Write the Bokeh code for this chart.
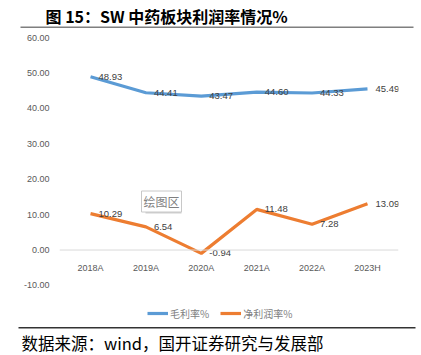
from bokeh.plotting import figure
from bokeh.layouts import column
from bokeh.models import (FactorRange, Range1d, ColumnDataSource, Span, Label, Legend, LegendItem,
                          NumeralTickFormatter, FixedTicker, BoxAnnotation)
from bokeh.core.properties import value
from bokeh.embed import file_html
from bokeh.resources import INLINE

categories = ["2018A", "2019A", "2020A", "2021A", "2022A", "2023H"]
gross_margin = [48.93, 44.41, 43.47, 44.60, 44.33, 45.49]
net_margin = [10.29, 6.54, -0.94, 11.48, 7.28, 13.09]
y_ticks = [-10, 0, 10, 20, 30, 40, 50, 60]
series_names = ["毛利率%", "净利润率%"]
title_text = "图 15：SW 中药板块利润率情况%"
source_text = "数据来源：wind，国开证券研究与发展部"
tooltip_text = "绘图区"

BLUE = "#5B9BD5"
ORANGE = "#ED7D31"
CJK = "Noto Sans CJK SC"
NUM = "Liberation Sans"
W = 421


def blank(h):
    f = figure(width=W, height=h, output_backend="svg", toolbar_location=None,
               x_range=Range1d(0, W), y_range=Range1d(0, h),
               x_axis_type=None, y_axis_type=None, min_border=0)
    f.frame_align = False
    f.outline_line_color = None
    f.xgrid.visible = False
    f.ygrid.visible = False
    return f


def rule(f, left, right, top, bottom, color):
    f.add_layout(BoxAnnotation(left=left, right=right, top=top, bottom=bottom,
                               left_units="canvas", right_units="canvas",
                               top_units="canvas", bottom_units="canvas",
                               fill_color=color, fill_alpha=1, line_color=None))


# ---- header ----
head = blank(30)
head.add_layout(Label(x=45, y=15, x_units="canvas", y_units="canvas", text=title_text,
                      text_font=CJK, text_font_size="16px", text_font_style="bold",
                      text_color="#000000", text_baseline="middle"))
rule(head, 20, 413, 26, 27.5, "#7f7f7f")

# ---- main chart ----
p = figure(width=W, height=295, output_backend="svg", toolbar_location=None,
           x_range=FactorRange(*categories, range_padding=0.06, range_padding_units="absolute"),
           y_range=Range1d(-21.3, 60))
p.frame_align = False
p.min_border_left = 59
p.min_border_right = 23
p.min_border_top = 7
p.min_border_bottom = 0
p.outline_line_color = None
p.xgrid.grid_line_color = None
p.ygrid.grid_line_color = None
p.xaxis.visible = False

ya = p.yaxis[0]
ya.ticker = FixedTicker(ticks=y_ticks)
ya.formatter = NumeralTickFormatter(format="0.00")
ya.axis_line_color = None
ya.major_tick_line_color = None
ya.minor_tick_line_color = None
ya.major_label_standoff = 4
ya.major_label_text_font = NUM
ya.major_label_text_font_size = "9px"
ya.major_label_text_color = "#595959"

p.add_layout(Span(location=0, dimension="width", line_color="#d9d9d9", line_width=1))

src = ColumnDataSource(dict(cat=categories, gm=gross_margin, nm=net_margin,
                            gml=["%.2f" % v for v in gross_margin],
                            nml=["%.2f" % v for v in net_margin],
                            zero=[0] * len(categories)))

r1 = p.line("cat", "gm", source=src, line_color=BLUE, line_width=3.2)
r2 = p.line("cat", "nm", source=src, line_color=ORANGE, line_width=3.2)

for col, ycol in (("gml", "gm"), ("nml", "nm")):
    p.text(x="cat", y=ycol, text=col, source=src, x_offset=8,
           text_font=value(NUM), text_font_size="9.5px", text_color="#404040",
           text_baseline="middle", text_align="left")

p.text(x="cat", y="zero", text="cat", source=src, y_offset=18,
       text_font=value(NUM), text_font_size="9px", text_color="#595959",
       text_baseline="middle", text_align="center")

legend = Legend(items=[LegendItem(label=series_names[0], renderers=[r1]),
                       LegendItem(label=series_names[1], renderers=[r2])],
                orientation="horizontal", location=(88, 2),
                border_line_color=None, background_fill_alpha=0,
                label_text_font=CJK, label_text_font_size="10px", label_text_color="#7f7f7f",
                glyph_width=21, label_standoff=2, spacing=11, padding=0, margin=0)
p.add_layout(legend, "center")

# Excel's "plot area" hover tip, with its faint shadow
p.add_layout(BoxAnnotation(left=145, right=181, top=164, bottom=183,
                           left_units="canvas", right_units="canvas",
                           top_units="canvas", bottom_units="canvas",
                           fill_color="#d0d0d0", fill_alpha=1, line_color=None))
p.add_layout(Label(x=161, y=171, x_units="canvas", y_units="canvas", text=tooltip_text,
                   text_font=CJK, text_font_size="12px", text_color="#7f7f7f",
                   text_align="center", text_baseline="middle",
                   background_fill_color="white", border_line_color="#c8c8c8",
                   padding=2))

# ---- footer ----
foot = blank(30)
rule(foot, 18, 415, 1.5, 3, "#333333")
foot.add_layout(Label(x=21, y=17, x_units="canvas", y_units="canvas", text=source_text,
                      text_font=CJK, text_font_size="16.5px", text_color="#000000",
                      text_baseline="middle"))

layout = column(head, p, foot, spacing=0)
open("out.html", "w").write(file_html(layout, INLINE))
